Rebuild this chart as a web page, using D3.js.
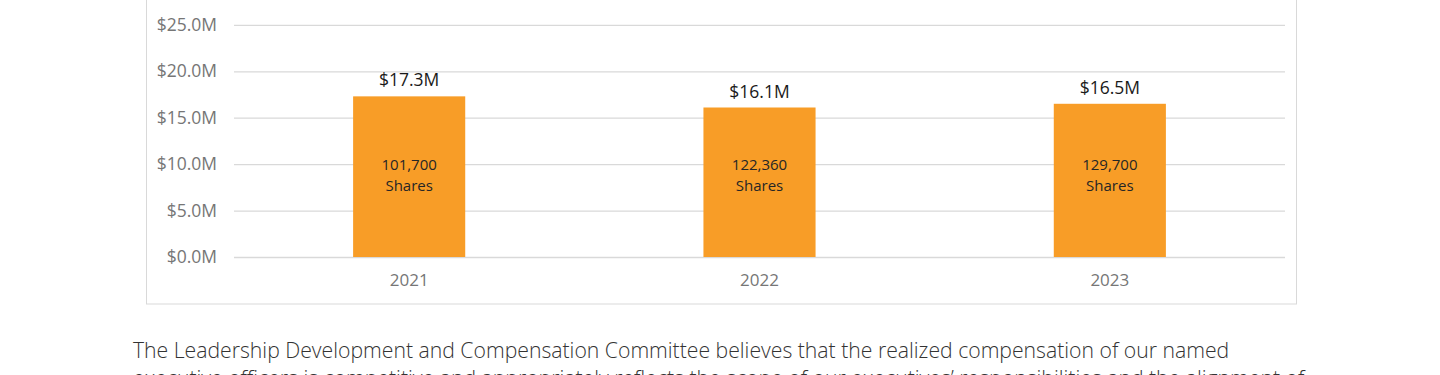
<!DOCTYPE html>
<html>
<head>
<meta charset="utf-8">
<script src="https://cdn.jsdelivr.net/npm/d3@7"></script>
<style>
  body { margin: 0; background: #fff; }
  svg { display: block; }
</style>
</head>
<body>
<svg id="drawing_region"></svg>
<script>
// data
const years = ["2021", "2022", "2023"];
const values = [17.3, 16.1, 16.5];          // $M realized
const shares = ["101,700", "122,360", "129,700"];
const yticks = [0, 5, 10, 15, 20, 25];
const paragraph = [
    "The Leadership Development and Compensation Committee believes that the realized compensation of our named",
    "executive officers is competitive and appropriately reflects the scope of our executives\u2019 responsibilities and the alignment of"
];

const width = 1440, height = 375;
const margin = {top: -3, left: 234, right: 155, bottom: 118};

const svg = d3.select('#drawing_region')
    .attr('width', width)
    .attr('height', height);

// chart frame
svg.append('rect')
    .attr('x', 146.5).attr('y', -10)
    .attr('width', 1150).attr('height', 314)
    .attr('fill', 'none')
    .attr('stroke', '#d9d9d9');

const inner_width = width - margin.left - margin.right;
const inner_height = height - margin.top - margin.bottom;

const chart = svg.append('g')
    .attr('transform', `translate(${margin.left}, ${margin.top})`);

const xscale = d3.scaleBand()
    .domain(years)
    .range([0, inner_width])
    .paddingInner(0.68)
    .paddingOuter(0.34);

const yscale = d3.scaleLinear()
    .domain([0, 28])
    .range([inner_height, 0]);

// gridlines + y labels
const yaxis = d3.axisLeft(yscale)
    .tickValues(yticks)
    .tickSize(-inner_width)
    .tickPadding(17)
    .tickFormat(d => `$${d.toFixed(1)}M`);

const yaxis_group = chart.append('g').call(yaxis);
yaxis_group.select('.domain').remove();
yaxis_group.selectAll('line').attr('stroke', '#d9d9d9').attr('stroke-width', 1.3);
yaxis_group.selectAll('text')
    .attr('fill', '#767676')
    .attr('font-family', 'Open Sans')
    .attr('font-size', '17.5px');

// x labels
const xaxis = d3.axisBottom(xscale).tickSize(0).tickPadding(17);
const xaxis_group = chart.append('g')
    .attr('transform', `translate(0, ${inner_height})`)
    .call(xaxis);
xaxis_group.select('.domain').remove();
xaxis_group.selectAll('text')
    .attr('fill', '#767676')
    .attr('font-family', 'Open Sans')
    .attr('font-size', '17px');

const rows = years.map((y, i) => ({year: y, value: values[i], shares: shares[i]}));

chart.selectAll('rect.bar')
    .data(rows)
    .enter()
    .append('rect')
    .attr('class', 'bar')
    .attr('x', d => xscale(d.year))
    .attr('y', d => yscale(d.value))
    .attr('width', xscale.bandwidth())
    .attr('height', d => inner_height - yscale(d.value))
    .attr('fill', '#f89d27');

chart.selectAll('text.value')
    .data(rows)
    .enter()
    .append('text')
    .attr('class', 'value')
    .attr('x', d => xscale(d.year) + xscale.bandwidth() / 2)
    .attr('y', d => yscale(d.value) - 10)
    .attr('text-anchor', 'middle')
    .attr('fill', '#1a1a1a')
    .attr('font-family', 'Open Sans')
    .attr('font-size', '17.5px')
    .text(d => `$${d.value.toFixed(1)}M`);

const inside = chart.selectAll('text.shares')
    .data(rows)
    .enter()
    .append('text')
    .attr('class', 'shares')
    .attr('text-anchor', 'middle')
    .attr('fill', '#262626')
    .attr('font-family', 'Open Sans')
    .attr('font-size', '15px');

inside.append('tspan')
    .attr('x', d => xscale(d.year) + xscale.bandwidth() / 2)
    .attr('y', yscale(10) + 6)
    .text(d => d.shares);
inside.append('tspan')
    .attr('x', d => xscale(d.year) + xscale.bandwidth() / 2)
    .attr('y', yscale(10) + 27)
    .text('Shares');

// paragraph under the chart
svg.selectAll('text.para')
    .data(paragraph)
    .enter()
    .append('text')
    .attr('class', 'para')
    .attr('x', 133)
    .attr('y', (d, i) => 358 + i * 28)
    .attr('fill', '#333')
    .attr('font-family', 'Open Sans')
    .attr('font-weight', 300)
    .attr('font-size', '21.2px')
    .text(d => d);
</script>
</body>
</html>
